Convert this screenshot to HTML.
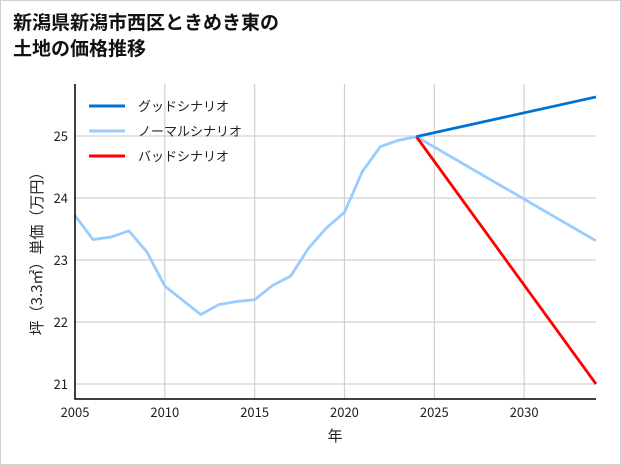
<!DOCTYPE html>
<html><head><meta charset="utf-8"><style>
body{margin:0;background:#fff}
#wrap{position:relative;width:619px;height:463px;border:1px solid #d0d0d0;background:#fff;font-family:"Liberation Sans","Noto Sans CJK JP",sans-serif}
.title{position:absolute;left:12px;top:10px;font-size:19px;font-weight:bold;line-height:26px;color:#111;margin:0}
svg{position:absolute;left:-1px;top:-1px}
svg text{font-family:"Noto Sans CJK JP",sans-serif;fill:#222}
</style></head><body>
<div id="wrap">
<h1 class="title">新潟県新潟市西区ときめき東の<br>土地の価格推移</h1>
<svg id="chart" width="621" height="465"></svg>
</div>
<script>
const years=[2005,2006,2007,2008,2009,2010,2011,2012,2013,2014,2015,2016,2017,2018,2019,2020,2021,2022,2023,2024];
const histValues=[23.72,23.33,23.37,23.47,23.13,22.58,22.35,22.12,22.28,22.33,22.36,22.59,22.74,23.19,23.52,23.77,24.43,24.83,24.93,24.99];
const scenarioYears=[2024,2034];
const goodValues=[24.99,25.63];
const normalValues=[24.99,23.31];
const badValues=[24.99,21.0];
const xTicks=[2005,2010,2015,2020,2025,2030];
const yTicks=[21,22,23,24,25];
const legendLabels=["グッドシナリオ","ノーマルシナリオ","バッドシナリオ"];
const legendColors=["#0072d0","#99ccff","#ff0000"];

const L=75,R=596,T=84,B=399;
const x=v=>L+(v-2005)/(2034-2005)*(R-L);
const y=v=>136+(25-v)*62;
const svg=document.getElementById('chart');
const NS='http://www.w3.org/2000/svg';
function mk(tag,attrs){const e=document.createElementNS(NS,tag);for(const k in attrs)e.setAttribute(k,attrs[k]);svg.appendChild(e);return e;}
xTicks.forEach(t=>{
  const g=mk('line',{x1:x(t),x2:x(t),y1:T,y2:B,stroke:'#d0d0d0','stroke-width':1.2});
  
  
  const tx=mk('text',{x:x(t),y:417,'text-anchor':'middle','font-size':13});
  tx.textContent=t;
  
  
});
yTicks.forEach(t=>{
  const g=mk('line',{x1:L,x2:R,y1:y(t),y2:y(t),stroke:'#d0d0d0','stroke-width':1.2});
  
  
  const tx=mk('text',{x:68,y:y(t)+5,'text-anchor':'end','font-size':13});
  tx.textContent=t;
  
  
});
function series(xs,vs,color,name){
  const p=mk('polyline',{points:xs.map((a,i)=>x(a)+','+y(vs[i])).join(' '),fill:'none',stroke:color,'stroke-width':2.8,'stroke-linejoin':'round'});
  
  
}
series(years,histValues,'#99ccff','historical-line');
series(scenarioYears,normalValues,'#99ccff','normal-scenario-line');
series(scenarioYears,badValues,'#ff0000','bad-scenario-line');
series(scenarioYears,goodValues,'#0072d0','good-scenario-line');
const ax=mk('path',{d:`M${L},${T} V${B} H${R}`,fill:'none',stroke:'#000','stroke-width':1.5});


legendLabels.forEach((lab,i)=>{
  const yy=106+i*25;
  const l=mk('line',{x1:89,x2:125,y1:yy,y2:yy,stroke:legendColors[i],'stroke-width':3});
  
  
  const t=mk('text',{x:138,y:yy+5,'font-size':13});
  t.textContent=lab;
  
  
});
const xl=mk('text',{x:335,y:441,'text-anchor':'middle','font-size':15});
xl.textContent='年';


const yl=mk('text',{x:0,y:0,'text-anchor':'middle','font-size':15,transform:'translate(42,250) rotate(-90)'});
yl.textContent='坪（3.3㎡）単価（万円）';


</script>
</body></html>
